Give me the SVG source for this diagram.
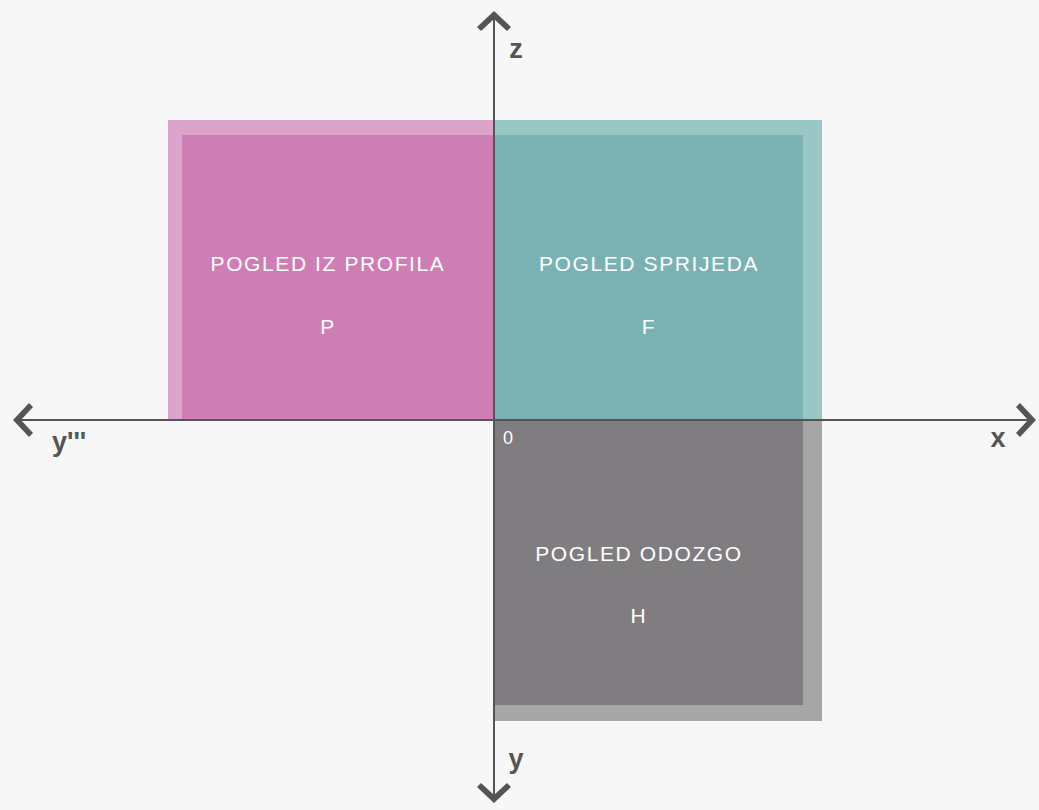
<svg xmlns="http://www.w3.org/2000/svg" width="1039" height="810" viewBox="0 0 1039 810">
<defs>
<style>
.lbl{font-family:"Liberation Sans",Arial,sans-serif;font-size:21px;fill:#ffffff;text-anchor:middle;letter-spacing:1.6px}
.ax{font-family:"Liberation Sans",Arial,sans-serif;font-size:27px;font-weight:bold;fill:#555555}
.axis{stroke:#555555;stroke-width:2;fill:none}
.head{fill:#555555}
</style>
</defs>
<rect width="1039" height="810" fill="#f7f7f7"/>
<g id="node-profile">
<rect x="168" y="120" width="326" height="300" fill="#dca4ca"/>
<rect x="182" y="135" width="312" height="285" fill="#cf7db5"/>
<text class="lbl" x="328" y="271">POGLED IZ PROFILA</text>
<text class="lbl" x="328" y="334">P</text>
</g>
<g id="node-front">
<rect x="494" y="120" width="328" height="300" fill="#9ac6c6"/>
<rect x="494" y="135" width="309" height="285" fill="#7ab2b3"/>
<text class="lbl" x="649" y="271">POGLED SPRIJEDA</text>
<text class="lbl" x="649" y="334">F</text>
</g>
<g id="node-top">
<rect x="494" y="420" width="328" height="301" fill="#a7a6a7"/>
<rect x="494" y="420" width="309" height="285" fill="#7f7d7f"/>
<text class="lbl" x="639" y="561">POGLED ODOZGO</text>
<text class="lbl" x="639" y="623">H</text>
</g>
<g id="connectors">
<line class="axis" x1="494" y1="14" x2="494" y2="800"/>
<line class="axis" x1="14" y1="420" x2="1034" y2="420"/>
<path class="head" d="M494 11 L511 27 L507 31 L494 19 L481 31 L477 27 Z"/>
<path class="head" d="M494 803 L511 787 L507 783 L494 795 L481 783 L477 787 Z"/>
<path class="head" d="M13 420 L29 403 L33 407 L21 420 L33 433 L29 437 Z"/>
<path class="head" d="M1036 420 L1020 403 L1016 407 L1028 420 L1016 433 L1020 437 Z"/>
</g>
<g id="axis-labels">
<text class="ax" x="516" y="58" text-anchor="middle">z</text>
<text class="ax" x="52" y="451">y'''</text>
<text class="ax" x="998" y="447" text-anchor="middle">x</text>
<text class="ax" x="516" y="768" text-anchor="middle">y</text>
<text x="508" y="444" font-family="Liberation Sans,Arial,sans-serif" font-size="18" fill="#ffffff" text-anchor="middle">0</text>
</g>
</svg>
